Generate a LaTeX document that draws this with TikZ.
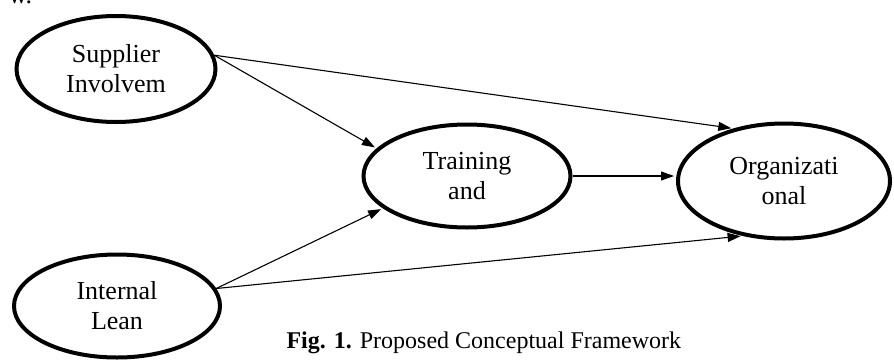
\documentclass[tikz,border=0pt]{standalone}
\usepackage{fontspec}
\setmainfont{Liberation Serif}
\usetikzlibrary{shapes.geometric}
\usetikzlibrary{arrows.meta}

\tikzset{
  construct/.style={ellipse,draw,line width=4pt,inner sep=0pt,align=center,
    font=\fontsize{26}{30}\selectfont},
  link/.style={-{Triangle[length=13pt,width=9pt]},line width=1.1pt,shorten >=2pt}
}

\begin{document}
\begin{tikzpicture}[x=1pt,y=-1pt]
  \useasboundingbox (0,0) rectangle (894,362);
  \node[anchor=base west,font=\fontsize{26}{26}\selectfont] (prev) at (5,3) {w.};
  \node[construct,minimum width=199pt,minimum height=106pt] (sup) at (116,69) {Supplier\\Involvem};
  \node[construct,minimum width=207pt,minimum height=103pt] (trn) at (467,176) {Training\\and};
  \node[construct,minimum width=212pt,minimum height=115pt] (org) at (784,181) {Organizati\\onal};
  \node[construct,minimum width=206pt,minimum height=103pt] (int) at (117,306) {Internal\\Lean};
  \node[anchor=base west,font=\fontsize{24}{26}\selectfont] (cap) at (283,348)
    {\textbf{Fig. 1.} Proposed Conceptual Framework};
  \draw[link] (sup.8) -- (org.134);
  \draw[link] (sup.8) -- (trn.163);
  \draw[link] (trn.east) -- (trn.east -| org.west);
  \draw[link] (int.10) -- (trn.201);
  \draw[link] (int.10) -- (org.233);
\end{tikzpicture}
\end{document}
